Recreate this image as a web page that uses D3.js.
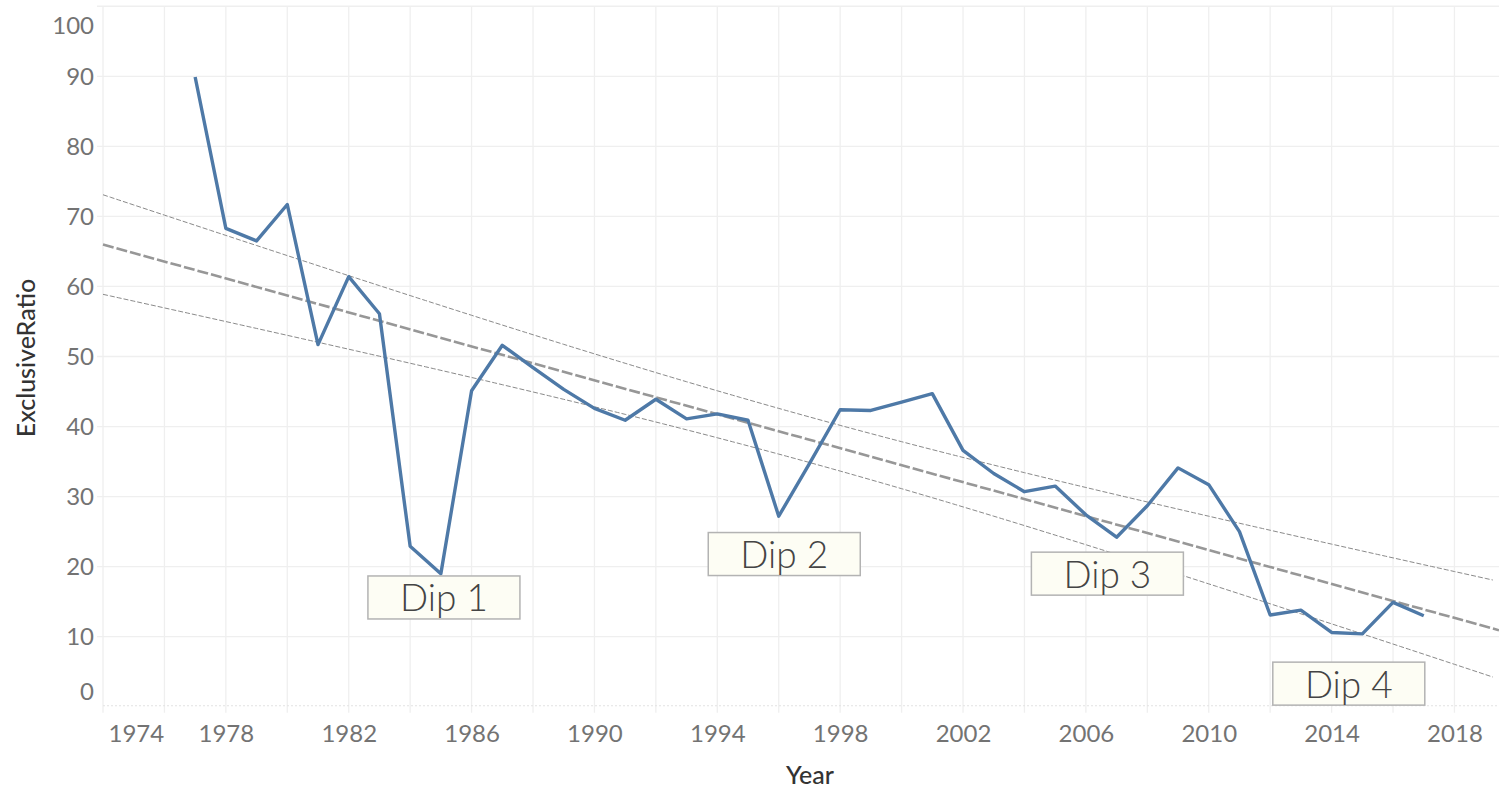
<!DOCTYPE html>
<html>
<head>
<meta charset="utf-8">
<script src="https://cdn.jsdelivr.net/npm/d3@7"></script>
<style>
  html, body { margin: 0; padding: 0; background: #fff; }
  svg { display: block; }
</style>
</head>
<body>
<svg id="chart" width="1499" height="789"></svg>
<script>
// ---------- data ----------
const years = [1977,1978,1979,1980,1981,1982,1983,1984,1985,1986,1987,1988,1989,1990,1991,1992,1993,1994,1995,1996,1997,1998,1999,2000,2001,2002,2003,2004,2005,2006,2007,2008,2009,2010,2011,2012,2013,2014,2015,2016,2017];
const exclusiveRatio = [89.9,68.3,66.5,71.7,51.7,61.4,56.1,22.9,19.0,45.1,51.6,48.4,45.3,42.6,40.9,43.9,41.1,41.8,40.9,27.2,34.7,42.4,42.3,43.5,44.7,36.6,33.3,30.7,31.5,27.4,24.2,28.7,34.1,31.7,25.0,13.1,13.8,10.6,10.4,14.9,13.0];
const xTickYears = [1974,1978,1982,1986,1990,1994,1998,2002,2006,2010,2014,2018];
const xGridYears = [1974,1976,1978,1980,1982,1984,1986,1988,1990,1992,1994,1996,1998,2000,2002,2004,2006,2008,2010,2012,2014,2016,2018];
const yTickValues = [0,10,20,30,40,50,60,70,80,90,100];
const annotationLabels = ["Dip 1","Dip 2","Dip 3","Dip 4"];
const annotationYears = [1985.1, 1996.18, 2006.7, 2014.56];
const annotationValues = [15.6, 21.8, 19.0, 3.3];
const xDomain = [1974, 2019.45];
const yDomain = [0, 100];
const tCritical = 2.0227; // 95% two-sided, df = 39

// ---------- layout ----------
const svg = d3.select("#chart");
const plotLeft = 103, plotRight = 1499, plotTop = 6.25, plotBottom = 706.75;
const x = d3.scaleLinear().domain(xDomain).range([plotLeft, plotRight]);
const y = d3.scaleLinear().domain(yDomain).range([plotBottom, plotTop]);

const fontFam = "Lato, 'Open Sans', 'DejaVu Sans', sans-serif";

// grid
const grid = svg.append("g");
grid.selectAll("line.h").data(yTickValues.filter(v => v > 0)).join("line")
  .attr("x1", plotLeft - 6).attr("x2", plotRight)
  .attr("y1", d => y(d)).attr("y2", d => y(d))
  .attr("stroke", "#efefef").attr("stroke-width", 1.3);
grid.selectAll("line.v").data(xGridYears).join("line")
  .attr("x1", d => x(d)).attr("x2", d => x(d))
  .attr("y1", plotTop).attr("y2", plotBottom + 6)
  .attr("stroke", "#efefef").attr("stroke-width", 1.3);
// zero line
svg.append("line")
  .attr("x1", plotLeft).attr("x2", plotRight)
  .attr("y1", y(0) - 1).attr("y2", y(0) - 1)
  .attr("stroke", "#e2e2e2").attr("stroke-width", 1.2)
  .attr("stroke-dasharray", "2,2");

// y axis
const yAxis = d3.axisLeft(y).tickValues(yTickValues).tickSize(0).tickPadding(9);
const gy = svg.append("g").attr("transform", `translate(${plotLeft},0)`).call(yAxis);
gy.select(".domain").remove();
gy.selectAll("text")
  .attr("font-family", fontFam).attr("font-size", 24).attr("fill", "#737373")
  .attr("dy", d => d === 100 ? "1.15em" : d === 0 ? "-0.32em" : "0.34em");

// x axis
const xAxis = d3.axisBottom(x).tickValues(xTickYears).tickFormat(d3.format("d")).tickSize(0).tickPadding(18);
const gx = svg.append("g").attr("transform", `translate(0,${plotBottom})`).call(xAxis);
gx.select(".domain").remove();
gx.selectAll("text")
  .attr("font-family", fontFam).attr("font-size", 24).attr("fill", "#737373")
  .attr("text-anchor", d => d === 1974 ? "start" : "middle")
  .attr("dx", d => d === 1974 ? 5 : 0);

// axis titles
svg.append("text")
  .attr("x", 810).attr("y", 784)
  .attr("text-anchor", "middle")
  .attr("font-family", fontFam).attr("font-size", 25).attr("font-weight", 500)
  .attr("fill", "#333").text("Year");
svg.append("text")
  .attr("transform", `translate(35,358) rotate(-90)`)
  .attr("text-anchor", "middle")
  .attr("font-family", fontFam).attr("font-size", 25).attr("font-weight", 500)
  .attr("fill", "#333").text("ExclusiveRatio");

// ---------- trend line + confidence band (computed from data) ----------
const n = years.length;
const mx = d3.mean(years), my = d3.mean(exclusiveRatio);
const sxx = d3.sum(years, v => (v - mx) ** 2);
const sxy = d3.sum(years, (v, i) => (v - mx) * (exclusiveRatio[i] - my));
const slope = sxy / sxx, intercept = my - slope * mx;
const sse = d3.sum(years, (v, i) => (exclusiveRatio[i] - (intercept + slope * v)) ** 2);
const se = Math.sqrt(sse / (n - 2));
const samples = d3.range(xDomain[0], xDomain[1] + 0.001, 0.25);
const fit = v => intercept + slope * v;
const half = v => tCritical * se * Math.sqrt(1 / n + (v - mx) ** 2 / sxx);

const ln = d3.line().x(d => x(d[0])).y(d => y(d[1]));
svg.append("path")
  .attr("d", ln(samples.map(v => [v, fit(v) + half(v)])))
  .attr("fill", "none").attr("stroke", "#8a8a8a").attr("stroke-width", 1)
  .attr("stroke-dasharray", "5,2");
svg.append("path")
  .attr("d", ln(samples.map(v => [v, fit(v) - half(v)])))
  .attr("fill", "none").attr("stroke", "#8a8a8a").attr("stroke-width", 1)
  .attr("stroke-dasharray", "5,2");
svg.append("path")
  .attr("d", ln([[xDomain[0], fit(xDomain[0])], [xDomain[1], fit(xDomain[1])]]))
  .attr("fill", "none").attr("stroke", "#979797").attr("stroke-width", 2.6)
  .attr("stroke-dasharray", "11,3");

// ---------- main line ----------
svg.append("path")
  .attr("d", d3.line().x((d, i) => x(years[i])).y(d => y(d))(exclusiveRatio))
  .attr("fill", "none").attr("stroke", "#4e79a7").attr("stroke-width", 3.4)
  .attr("stroke-linejoin", "round");

// ---------- annotations ----------
const boxW = 152, boxH = 43;
const ann = svg.append("g").selectAll("g").data(annotationLabels).join("g")
  .attr("transform", (d, i) => `translate(${x(annotationYears[i])},${y(annotationValues[i])})`);
ann.append("rect")
  .attr("x", -boxW / 2).attr("y", -boxH / 2).attr("width", boxW).attr("height", boxH)
  .attr("fill", "#fdfdf4").attr("stroke", "#b3b3b3").attr("stroke-width", 1.5);
ann.append("text")
  .attr("text-anchor", "middle").attr("y", 14)
  .attr("font-family", fontFam).attr("font-size", 37).attr("font-weight", 300)
  .attr("fill", "#444").text(d => d);
</script>
</body>
</html>
